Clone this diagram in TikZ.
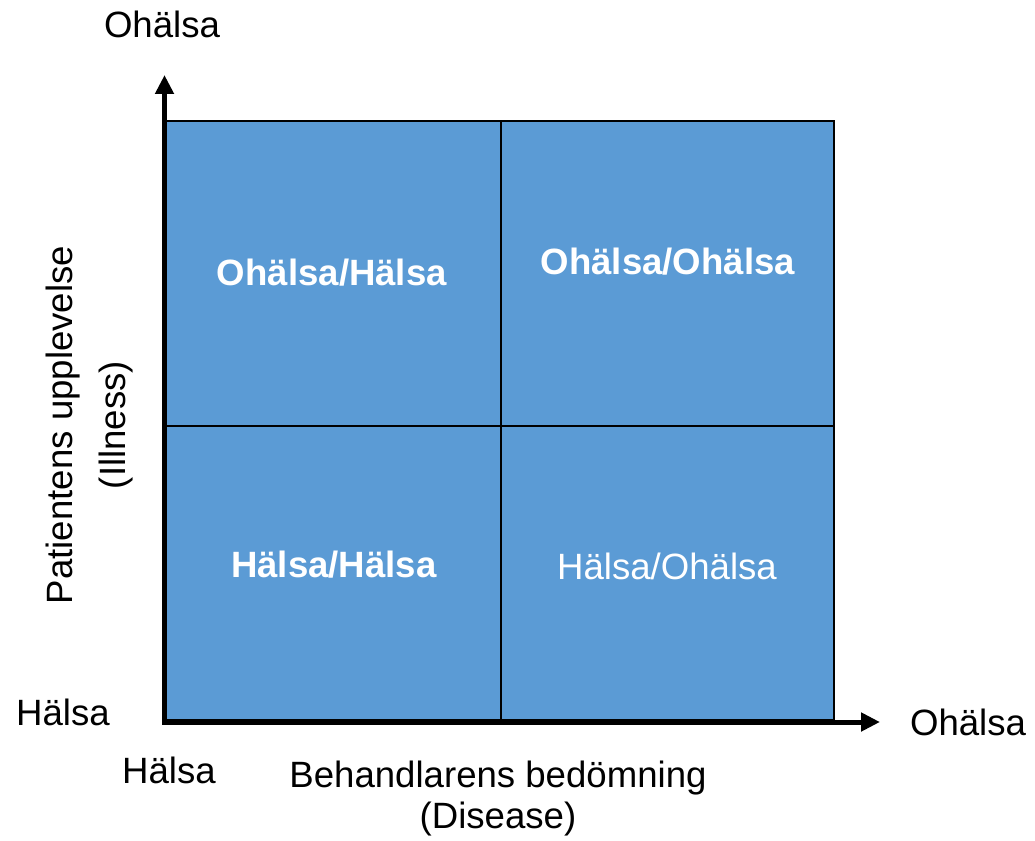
\documentclass[tikz,border=0pt]{standalone}
\usepackage{fontspec}
\setmainfont{Liberation Sans}
\usetikzlibrary{arrows.meta, positioning}
\definecolor{cellblue}{RGB}{91, 155, 213}

\begin{document}
\begin{tikzpicture}[x=1pt, y=-1pt,
  cell/.style={draw=black, line width=2pt, fill=cellblue, outer sep=0pt,
    inner sep=0pt},
  upperrow/.style={minimum height=305pt},
  lowerrow/.style={minimum height=294pt},
  leftcol/.style={minimum width=335pt},
  rightcol/.style={minimum width=333pt},
  celltext/.style={text=white, anchor=base, inner sep=0pt,
    font=\fontsize{36.6}{44}\selectfont},
  axistext/.style={anchor=base, inner sep=0pt,
    font=\fontsize{36.6}{44}\selectfont},
  axisline/.style={line width=5pt, -{Triangle[length=19pt, width=18pt]}}]
  \useasboundingbox (0,0) rectangle (1035,840);

  % quadrants
  \node[cell, upperrow, leftcol] (ul) at (333.5,273.5) {};
  \node[cell, upperrow, rightcol, right=0pt of ul] (ur) {};
  \node[cell, lowerrow, leftcol, below=0pt of ul] (ll) {};
  \node[cell, lowerrow, rightcol, right=0pt of ll] (lr) {};

  \node[celltext] (ulText) at (332,285) {\textbf{Ohälsa/Hälsa}};
  \node[celltext] (urText) at (668,274) {\textbf{Ohälsa/Ohälsa}};
  \node[celltext] (llText) at (334,577) {\textbf{Hälsa/Hälsa}};
  \node[celltext] (lrText) at (667,579) {Hälsa/Ohälsa};

  % axes
  \coordinate (origin) at (164.5,722);
  \coordinate (ytip) at (164.5,75);
  \coordinate (xtip) at (880,722);
  \draw[axisline] ([yshift=-2.5pt]origin) -- (ytip);
  \draw[axisline] ([xshift=-2.5pt]origin) -- (xtip);

  % axis labels
  \node[axistext] (yTop) at (162,38) {Ohälsa};
  \node[axistext] (yBottom) at (63,725) {Hälsa};
  \node[axistext] (xRight) at (968,735) {Ohälsa};
  \node[axistext] (xLeft) at (169,783) {Hälsa};
  \node[axistext, align=center, font=\fontsize{36.6}{41}\selectfont]
    (xTitle) at (498,828) {Behandlarens bedömning\\(Disease)};
  \node[axistext, align=center, rotate=90, font=\fontsize{36.6}{53}\selectfont]
    (yTitle) at (125,425) {Patientens upplevelse\\(Illness)};
\end{tikzpicture}
\end{document}
